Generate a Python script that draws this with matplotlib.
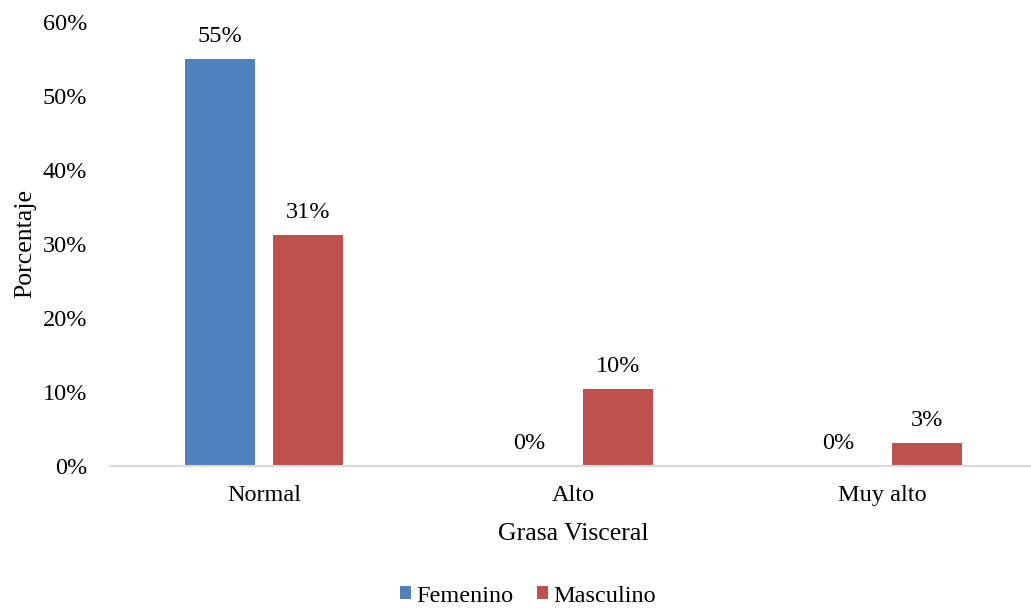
import numpy as np
import matplotlib.pyplot as plt
from matplotlib.ticker import PercentFormatter

# 数据
categorias = ['Normal', 'Alto', 'Muy alto']
femenino = [55.0, 0.0, 0.0]
masculino = [31.2, 10.4, 3.1]
etiquetas_fem = ['55%', '0%', '0%']
etiquetas_mas = ['31%', '10%', '3%']

plt.rcParams['font.family'] = ['Liberation Serif', 'DejaVu Serif']

fig = plt.figure(figsize=(10.31, 6.09), dpi=100)
ax = fig.add_axes([0.1063, 0.2348, 0.8997, 0.7291])

x = np.arange(len(categorias))
w = 0.226
off = 0.143
b1 = ax.bar(x - off, femenino, w, color='#4F81BD', label='Femenino')
b2 = ax.bar(x + off, masculino, w, color='#C0504D', label='Masculino')

for rects, labs in ((b1, etiquetas_fem), (b2, etiquetas_mas)):
    for r, t in zip(rects, labs):
        ax.annotate(t, (r.get_x() + r.get_width() / 2, r.get_height()),
                    xytext=(0, 12), textcoords='offset points',
                    ha='center', va='baseline', fontsize=17.5)

ax.set_xlim(-0.5, 2.5)
ax.set_ylim(0, 60)
ax.set_yticks(np.arange(0, 61, 10))
ax.yaxis.set_major_formatter(PercentFormatter(decimals=0))
ax.set_xticks(x)
ax.set_xticklabels(categorias)
ax.tick_params(axis='both', length=0, labelsize=17.5)
ax.tick_params(axis='y', pad=16)
ax.tick_params(axis='x', pad=14)

for s in ('top', 'right', 'left'):
    ax.spines[s].set_visible(False)
ax.spines['bottom'].set_color('#d9d9d9')
ax.spines['bottom'].set_linewidth(1.5)

ax.set_xlabel('Grasa Visceral', fontsize=18.5, labelpad=12)
ax.set_ylabel('Porcentaje', fontsize=18.5, labelpad=5)

fig.legend(handles=[b1, b2], loc='center', bbox_to_anchor=(0.512, 1 - 596 / 609),
           ncol=2, frameon=False, fontsize=17.5, handlelength=0.45,
           handleheight=0.45, handletextpad=0.2, columnspacing=1.0,
           borderaxespad=0, borderpad=0)

fig.savefig('out.png', dpi=100)
